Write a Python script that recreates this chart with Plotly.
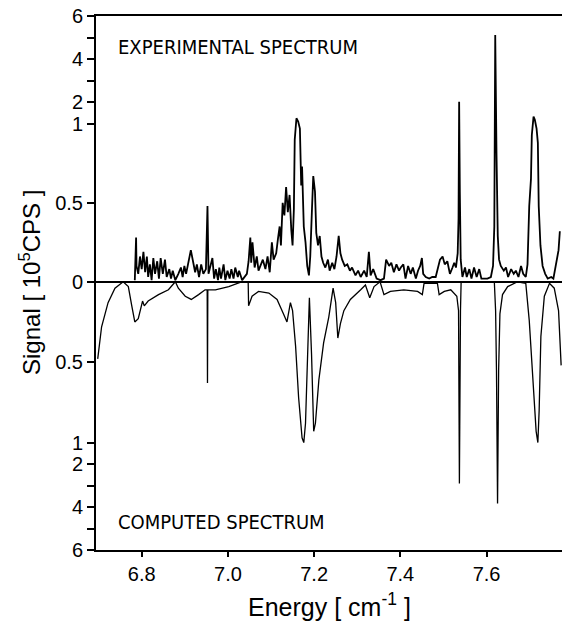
import numpy as np
import plotly.graph_objects as go

# ---------------- data ----------------
exp_energy = [6.784, 6.787, 6.788, 6.792, 6.796, 6.800, 6.804, 6.808, 6.812, 6.815,
              6.819, 6.823, 6.827, 6.831, 6.836, 6.840, 6.844, 6.849, 6.854, 6.858,
              6.864, 6.868, 6.872, 6.878, 6.885, 6.891, 6.895, 6.899, 6.903, 6.909,
              6.914, 6.919, 6.924, 6.928, 6.933, 6.938, 6.943, 6.949, 6.9526, 6.955,
              6.959, 6.964, 6.968, 6.972, 6.977, 6.980, 6.984, 6.990, 6.994, 6.999,
              7.004, 7.008, 7.013, 7.017, 7.023, 7.026, 7.033, 7.039, 7.044, 7.048,
              7.052, 7.054, 7.057, 7.062, 7.067, 7.071, 7.075, 7.081, 7.087, 7.092,
              7.097, 7.102, 7.106, 7.112, 7.116, 7.120, 7.123, 7.127, 7.131, 7.135,
              7.139, 7.143, 7.147, 7.150, 7.153, 7.155, 7.159, 7.163, 7.167, 7.170,
              7.172, 7.176, 7.180, 7.184, 7.188, 7.191, 7.195, 7.198, 7.202, 7.205,
              7.209, 7.213, 7.217, 7.221, 7.226, 7.232, 7.236, 7.242, 7.247, 7.252,
              7.257, 7.261, 7.265, 7.271, 7.277, 7.283, 7.288, 7.296, 7.302, 7.308,
              7.316, 7.322, 7.327, 7.331, 7.337, 7.345, 7.354, 7.362, 7.367, 7.374,
              7.379, 7.385, 7.391, 7.397, 7.401, 7.407, 7.412, 7.418, 7.424, 7.429,
              7.436, 7.441, 7.446, 7.450, 7.453, 7.459, 7.467, 7.474, 7.482, 7.488,
              7.492, 7.498, 7.503, 7.509, 7.515, 7.521, 7.525, 7.529, 7.533, 7.535,
              7.5364, 7.538, 7.540, 7.544, 7.550, 7.554, 7.560, 7.565, 7.571, 7.577,
              7.583, 7.588, 7.595, 7.602, 7.610, 7.615, 7.618, 7.6201, 7.623, 7.626,
              7.629, 7.633, 7.640, 7.645, 7.650, 7.657, 7.663, 7.668, 7.674, 7.680,
              7.685, 7.691, 7.695, 7.699, 7.703, 7.705, 7.709, 7.712, 7.716, 7.719,
              7.721, 7.725, 7.730, 7.736, 7.742, 7.750, 7.755, 7.760, 7.764, 7.767,
              7.770]
exp_signal = [0.01, 0.28, 0.10, 0.05, 0.16, 0.08, 0.19, 0.06, 0.16, 0.03,
              0.11, 0.01, 0.15, 0.05, 0.13, 0.02, 0.15, 0.05, 0.14, 0.03,
              0.08, 0.02, 0.07, 0.01, 0.05, 0.09, 0.03, 0.10, 0.05, 0.13,
              0.20, 0.13, 0.06, 0.11, 0.03, 0.11, 0.05, 0.08, 0.48, 0.05,
              0.10, 0.15, 0.02, 0.08, 0.01, 0.09, 0.02, 0.11, 0.01, 0.07,
              0.02, 0.08, 0.02, 0.09, 0.03, 0.07, 0.01, 0.03, 0.05, 0.13,
              0.28, 0.12, 0.25, 0.09, 0.16, 0.07, 0.10, 0.14, 0.08, 0.16,
              0.06, 0.25, 0.14, 0.18, 0.27, 0.35, 0.23, 0.50, 0.42, 0.60,
              0.44, 0.55, 0.33, 0.23, 0.46, 0.90, 1.26, 1.11, 0.97, 0.61,
              0.73, 0.35, 0.25, 0.10, 0.04, 0.16, 0.46, 0.67, 0.57, 0.31,
              0.23, 0.29, 0.16, 0.12, 0.09, 0.14, 0.07, 0.12, 0.08, 0.16,
              0.29, 0.18, 0.14, 0.10, 0.11, 0.07, 0.09, 0.04, 0.07, 0.03,
              0.07, 0.03, 0.19, 0.04, 0.08, 0.02, 0.01, 0.02, 0.14, 0.10,
              0.12, 0.06, 0.11, 0.07, 0.09, 0.11, 0.02, 0.10, 0.05, 0.09,
              0.02, 0.07, 0.10, 0.15, 0.05, 0.03, 0.02, 0.03, 0.03, 0.11,
              0.14, 0.16, 0.11, 0.13, 0.05, 0.09, 0.12, 0.09, 0.18, 0.40,
              2.03, 0.57, 0.14, 0.03, 0.09, 0.03, 0.08, 0.02, 0.09, 0.03,
              0.08, 0.02, 0.02, 0.02, 0.03, 0.10, 0.35, 5.12, 0.82, 0.29,
              0.14, 0.10, 0.07, 0.09, 0.03, 0.08, 0.05, 0.07, 0.03, 0.10,
              0.05, 0.03, 0.11, 0.48, 0.65, 0.93, 1.34, 1.19, 0.97, 0.88,
              0.48, 0.23, 0.10, 0.05, 0.02, 0.03, 0.02, 0.10, 0.16, 0.20,
              0.32]

comp_energy = [6.698, 6.707, 6.722, 6.738, 6.757, 6.769, 6.777, 6.784, 6.792, 6.800,
               6.802, 6.806, 6.815, 6.839, 6.862, 6.878, 6.885, 6.901, 6.915, 6.932,
               6.947, 6.9519, 6.9526, 6.9534, 6.959, 6.971, 7.002, 7.033, 7.047, 7.048,
               7.056, 7.071, 7.095, 7.114, 7.129, 7.137, 7.145, 7.150, 7.157, 7.164,
               7.172, 7.176, 7.180, 7.184, 7.189, 7.194, 7.199, 7.203, 7.211, 7.222,
               7.234, 7.244, 7.250, 7.255, 7.261, 7.269, 7.284, 7.308, 7.319, 7.329,
               7.339, 7.353, 7.362, 7.377, 7.408, 7.440, 7.451, 7.455, 7.486, 7.490,
               7.502, 7.517, 7.531, 7.535, 7.537, 7.5395, 7.541, 7.618, 7.621, 7.623,
               7.6255, 7.628, 7.631, 7.637, 7.649, 7.672, 7.691, 7.699, 7.707, 7.715,
               7.719, 7.722, 7.726, 7.734, 7.746, 7.757, 7.767, 7.773]
comp_signal = [0.48, 0.28, 0.13, 0.04, 0.00, 0.03, 0.15, 0.25, 0.23, 0.15,
               0.12, 0.15, 0.12, 0.08, 0.05, 0.00, 0.04, 0.09, 0.11, 0.08,
               0.05, 0.05, 0.63, 0.05, 0.05, 0.05, 0.03, 0.00, 0.00, 0.15,
               0.09, 0.06, 0.07, 0.11, 0.20, 0.25, 0.13, 0.18, 0.40, 0.72,
               0.97, 1.00, 0.88, 0.55, 0.10, 0.45, 0.93, 0.88, 0.61, 0.38,
               0.22, 0.04, 0.13, 0.35, 0.26, 0.18, 0.11, 0.05, 0.02, 0.10,
               0.03, 0.00, 0.08, 0.06, 0.05, 0.06, 0.08, 0.01, 0.01, 0.08,
               0.06, 0.05, 0.09, 0.18, 2.91, 0.18, 0.00, 0.00, 0.18, 0.55,
               3.84, 0.55, 0.20, 0.08, 0.03, 0.00, 0.01, 0.24, 0.61, 0.93,
               1.00, 0.80, 0.34, 0.09, 0.01, 0.04, 0.18, 0.52]

x_tick_values = [6.8, 7.0, 7.2, 7.4, 7.6]
x_tick_labels = ["6.8", "7.0", "7.2", "7.4", "7.6"]
y_tick_values = [6, 5, 4, 3, 2, 1, 0.5, 0, -0.5, -1, -2, -3, -4, -5, -6]
y_tick_labels = ["6", "", "4", "", "2", "1", "0.5", "0", "0.5", "1", "2", "", "4", "", "6"]


# ---------------- broken (compressed above 1) signal scale ----------------
def scale(s):
    s = np.asarray(s, dtype=float)
    a = np.abs(s)
    up = np.where(a <= 1, a, 1 + (a - 1) * 0.1367)
    dn = np.where(a <= 1, a * 1.019, 1.019 + (a - 1) * 0.1361)
    return np.where(s >= 0, up, -dn)


fig = go.Figure()
fig.add_trace(go.Scatter(x=exp_energy, y=scale(exp_signal), mode="lines",
                         line=dict(color="black", width=1.8), showlegend=False))
fig.add_trace(go.Scatter(x=comp_energy, y=scale(-np.array(comp_signal)), mode="lines",
                         line=dict(color="black", width=1.3), showlegend=False))

tickfont = dict(family="Liberation Sans", size=20, color="black")
fig.update_layout(
    width=562, height=624,
    margin=dict(l=96, r=0, t=16, b=74),
    paper_bgcolor="white", plot_bgcolor="white",
    xaxis=dict(range=[6.694, 7.775], tickvals=x_tick_values, ticktext=x_tick_labels,
               showline=True, linecolor="black", linewidth=2, mirror=True,
               ticks="outside", ticklen=5, tickwidth=1.5, tickcolor="black",
               showgrid=False, zeroline=False, tickfont=tickfont),
    yaxis=dict(range=[-1.6995, 1.6835], tickvals=list(scale(y_tick_values)),
               ticktext=y_tick_labels, showline=True, linecolor="black", linewidth=2,
               ticks="outside", ticklen=7, tickwidth=1.5, tickcolor="black",
               showgrid=False, zeroline=True, zerolinecolor="black", zerolinewidth=1.8,
               tickfont=tickfont),
)

labelfont = dict(family="DejaVu Sans Condensed, Liberation Sans", size=20, color="black")
fig.add_annotation(text="EXPERIMENTAL SPECTRUM", xref="paper", yref="paper",
                   x=0.043, y=0.942, xanchor="left", yanchor="middle", showarrow=False,
                   font=labelfont)
fig.add_annotation(text="COMPUTED SPECTRUM", xref="paper", yref="paper",
                   x=0.043, y=0.0524, xanchor="left", yanchor="middle", showarrow=False,
                   font=labelfont)
fig.add_annotation(text="Energy [ cm<sup>-1</sup> ]", xref="paper", yref="paper",
                   x=0.5, y=0, yshift=-55, xanchor="center", yanchor="middle",
                   showarrow=False,
                   font=dict(family="Liberation Sans", size=25, color="black"))
fig.add_annotation(text="Signal [ 10<sup>5</sup>CPS ]", xref="paper", yref="paper",
                   x=0, y=0.5, xshift=-66, xanchor="center", yanchor="middle",
                   textangle=-90, showarrow=False,
                   font=dict(family="Liberation Sans", size=24, color="black"))

fig.write_html("out.html")
